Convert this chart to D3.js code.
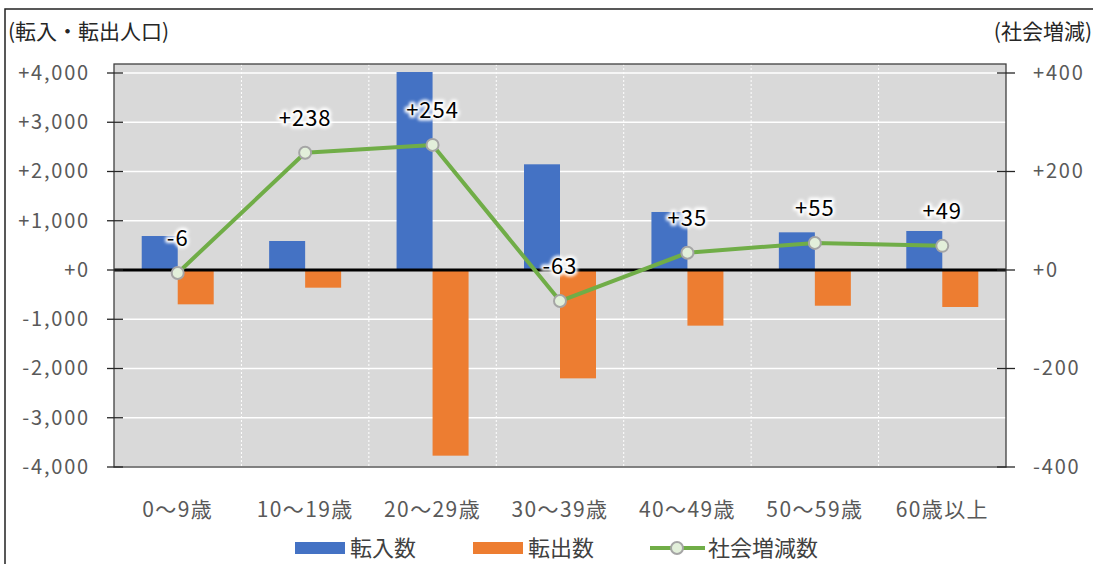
<!DOCTYPE html>
<html><head><meta charset="utf-8">
<script src="https://cdn.jsdelivr.net/npm/d3@7"></script>
<style>
html,body{margin:0;padding:0;background:#fff;}
svg{display:block;}
text{font-family:"Noto Sans CJK JP","Noto Sans",sans-serif;}
</style></head>
<body>
<svg id="chart" width="1093" height="564"></svg>
<script>
const categories = ["0〜9歳","10〜19歳","20〜29歳","30〜39歳","40〜49歳","50〜59歳","60歳以上"];
const inflow  = [690, 589, 4020, 2146, 1178, 765, 792];
const outflow = [-697, -359, -3770, -2200, -1130, -725, -751];
const social  = [-6, 238, 254, -63, 35, 55, 49];
const leftTicks  = [-4000,-3000,-2000,-1000,0,1000,2000,3000,4000];
const rightTicks = [-400,-200,0,200,400];
const seriesNames = ["転入数","転出数","社会増減数"];
const leftTitle = "(転入・転出人口)";
const rightTitle = "(社会増減)";

const svg = d3.select("#chart");
const L = 114, R = 1006, T = 64, B = 467;
const x = d3.scaleBand().domain(categories).range([L, R]).padding(0);
const xs = d3.scaleBand().domain(["in","out"]).range([0, x.bandwidth()]).paddingInner(0).paddingOuter(0.77);
const yL = d3.scaleLinear().domain([-4000, 4000]).range([467, 73]);
const yR = d3.scaleLinear().domain([-400, 400]).range([467, 73]);
const fmt = v => (v >= 0 ? "+" : "") + d3.format(",")(v).replace("\u2212", "-");

const defs = svg.append("defs");
const f = defs.append("filter").attr("id","glow").attr("x","-30%").attr("y","-30%").attr("width","160%").attr("height","160%");
f.append("feGaussianBlur").attr("stdDeviation", 1.6);

// outer frame
svg.append("path").attr("d", `M5,564 V9 H1093`).attr("fill","none").attr("stroke","#222").attr("stroke-width",1.5);

// header titles
svg.append("text").attr("x", 8).attr("y", 30).attr("dominant-baseline","central")
  .attr("font-size", 21).attr("fill","#262626").text(leftTitle);
svg.append("text").attr("x", 1092).attr("y", 30).attr("dominant-baseline","central").attr("text-anchor","end")
  .attr("font-size", 21).attr("fill","#262626").text(rightTitle);

// plot background
svg.append("rect").attr("x", L).attr("y", T).attr("width", R-L).attr("height", B-T).attr("fill","#d9d9d9");

// horizontal gridlines
svg.append("g").selectAll("line").data(leftTicks).join("line")
  .attr("x1", L).attr("x2", R).attr("y1", d => yL(d)).attr("y2", d => yL(d))
  .attr("stroke","#fff").attr("stroke-width",1.3);

// vertical dotted gridlines at category boundaries
svg.append("g").selectAll("line").data(categories.slice(1)).join("line")
  .attr("x1", d => x(d)).attr("x2", d => x(d)).attr("y1", T).attr("y2", B)
  .attr("stroke","#fff").attr("stroke-width",1).attr("stroke-dasharray","2,2");

// bars
svg.append("g").selectAll("rect").data(inflow).join("rect")
  .attr("x", (d,i) => x(categories[i]) + xs("in")).attr("width", xs.bandwidth())
  .attr("y", d => yL(Math.max(0,d))).attr("height", d => Math.abs(yL(d) - yL(0)))
  .attr("fill","#4472c4");
svg.append("g").selectAll("rect").data(outflow).join("rect")
  .attr("x", (d,i) => x(categories[i]) + xs("out")).attr("width", xs.bandwidth())
  .attr("y", d => yL(Math.max(0,d))).attr("height", d => Math.abs(yL(d) - yL(0)))
  .attr("fill","#ed7d31");

// zero line
svg.append("line").attr("x1", L).attr("x2", R).attr("y1", yL(0)).attr("y2", yL(0))
  .attr("stroke","#000").attr("stroke-width",3);

// plot border
svg.append("rect").attr("x", L).attr("y", T).attr("width", R-L).attr("height", B-T)
  .attr("fill","none").attr("stroke","#404040").attr("stroke-width",1.3);

// left axis
const axL = d3.axisLeft(yL).tickValues(leftTicks).tickFormat(fmt).tickSize(0).tickPadding(24);
const gL = svg.append("g").attr("transform", `translate(${L},0)`).call(axL);
gL.select(".domain").remove();
gL.selectAll("text").attr("font-size",20).attr("fill","#595959").attr("letter-spacing","1.8px")
  .attr("font-family","\"Noto Sans\",sans-serif");
svg.append("g").selectAll("line").data(leftTicks).join("line")
  .attr("x1", L-7).attr("x2", L+9).attr("y1", d => yL(d)).attr("y2", d => yL(d))
  .attr("stroke","#262626").attr("stroke-width",1.3);

// right axis
const axR = d3.axisRight(yR).tickValues(rightTicks).tickFormat(fmt).tickSize(0).tickPadding(27);
const gR = svg.append("g").attr("transform", `translate(${R},0)`).call(axR);
gR.select(".domain").remove();
gR.selectAll("text").attr("font-size",20).attr("fill","#595959").attr("letter-spacing","1.8px")
  .attr("font-family","\"Noto Sans\",sans-serif");
svg.append("g").selectAll("line").data(rightTicks).join("line")
  .attr("x1", R-9).attr("x2", R+9).attr("y1", d => yR(d)).attr("y2", d => yR(d))
  .attr("stroke","#262626").attr("stroke-width",1.3);

// category labels
svg.append("g").selectAll("text").data(categories).join("text")
  .attr("x", d => x(d) + x.bandwidth()/2).attr("y", 508)
  .attr("text-anchor","middle").attr("dominant-baseline","central")
  .attr("font-size",21).attr("letter-spacing","1.4px").attr("fill","#595959").text(d => d);

// social line
const cx = i => x(categories[i]) + x.bandwidth()/2;
const line = d3.line().x((d,i) => cx(i)).y(d => yR(d));
svg.append("path").datum(social).attr("d", line).attr("fill","none")
  .attr("stroke","#70ad47").attr("stroke-width",4).attr("stroke-linejoin","round");
svg.append("g").selectAll("circle").data(social).join("circle")
  .attr("cx", (d,i) => cx(i)).attr("cy", d => yR(d)).attr("r", 6)
  .attr("fill","#e2efda").attr("stroke","#a5a5a5").attr("stroke-width",2);

// data labels with glow
const lg = svg.append("g");
lg.selectAll("text.halo").data(social).join("text").attr("class","halo")
  .attr("x", (d,i) => cx(i)).attr("y", d => yR(d) - 37)
  .attr("text-anchor","middle").attr("dominant-baseline","central")
  .attr("font-size",22).attr("letter-spacing","1px").attr("font-family","\"Noto Sans\",sans-serif")
  .attr("fill","#fff").attr("stroke","#fff").attr("stroke-width",5).attr("stroke-linejoin","round")
  .attr("filter","url(#glow)").text(d => fmt(d));
lg.selectAll("text.lab").data(social).join("text").attr("class","lab")
  .attr("x", (d,i) => cx(i)).attr("y", d => yR(d) - 37)
  .attr("text-anchor","middle").attr("dominant-baseline","central")
  .attr("font-size",22).attr("letter-spacing","1px").attr("font-family","\"Noto Sans\",sans-serif")
  .attr("fill","#000").text(d => fmt(d));

// legend
const lgY = 548;
const leg = svg.append("g");
leg.append("rect").attr("x",295).attr("y",lgY-6).attr("width",50).attr("height",12).attr("fill","#4472c4");
leg.append("text").attr("x",350).attr("y",lgY-2).attr("dominant-baseline","central").attr("font-size",22).attr("fill","#404040").text(seriesNames[0]);
leg.append("rect").attr("x",473).attr("y",lgY-6).attr("width",50).attr("height",12).attr("fill","#ed7d31");
leg.append("text").attr("x",528).attr("y",lgY-2).attr("dominant-baseline","central").attr("font-size",22).attr("fill","#404040").text(seriesNames[1]);
leg.append("line").attr("x1",650).attr("x2",705).attr("y1",lgY).attr("y2",lgY).attr("stroke","#70ad47").attr("stroke-width",4);
leg.append("circle").attr("cx",677).attr("cy",lgY).attr("r",6).attr("fill","#e2efda").attr("stroke","#a5a5a5").attr("stroke-width",2);
leg.append("text").attr("x",708).attr("y",lgY-2).attr("dominant-baseline","central").attr("font-size",22).attr("fill","#404040").text(seriesNames[2]);
</script>
</body></html>
